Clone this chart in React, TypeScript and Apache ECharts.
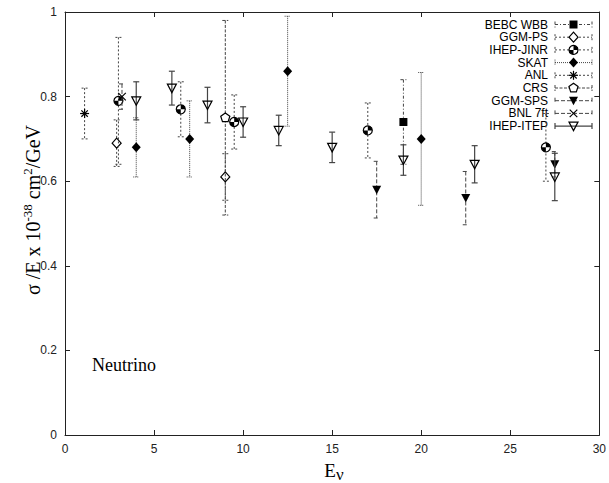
import React, { useEffect, useRef } from 'react';
import * as echarts from 'echarts';

// ---- data ----
const EXPERIMENTS = ['BEBC WBB', 'GGM-PS', 'IHEP-JINR', 'SKAT', 'ANL', 'CRS', 'GGM-SPS', 'BNL 7ft', 'IHEP-ITEP'];

const BEBC_E = [19];
const BEBC_V = [0.74];
const BEBC_ERR = [0.1];

const GGMPS_E = [2.9, 9.0];
const GGMPS_V = [0.69, 0.61];
const GGMPS_ERR = [0.055, 0.055];

const JINR_E = [3.0, 6.5, 9.5, 17.0, 27.0];
const JINR_V = [0.79, 0.77, 0.74, 0.72, 0.68];
const JINR_ERR = [0.15, 0.065, 0.064, 0.065, 0.08];

const SKAT_E = [4.0, 7.0, 12.5, 20.0];
const SKAT_V = [0.68, 0.70, 0.86, 0.70];
const SKAT_ERR = [0.07, 0.09, 0.13, 0.157];

const ANL_E = [1.1];
const ANL_V = [0.76];
const ANL_ERR = [0.06];

const CRS_E = [9.0];
const CRS_V = [0.75];
const CRS_ERR = [0.23];

const GGMSPS_E = [17.5, 22.5, 27.5];
const GGMSPS_V = [0.58, 0.56, 0.64];
const GGMSPS_ERR = [0.067, 0.063, 0.03];

const BNL_E = [3.2];
const BNL_V = [0.80];
const BNL_ERR = [0.03];

const ITEP_E = [4, 6, 8, 10, 12, 15, 19, 23, 27.5];
const ITEP_V = [0.79, 0.82, 0.78, 0.74, 0.72, 0.68, 0.65, 0.64, 0.61];
const ITEP_ERR = [0.045, 0.04, 0.042, 0.036, 0.036, 0.036, 0.036, 0.044, 0.056];

const X_MIN = 0, X_MAX = 30, X_STEP = 5;
const Y_MIN = 0, Y_MAX = 1, Y_STEP = 0.2;

const SERIES_DATA = [
  [BEBC_E, BEBC_V, BEBC_ERR],
  [GGMPS_E, GGMPS_V, GGMPS_ERR],
  [JINR_E, JINR_V, JINR_ERR],
  [SKAT_E, SKAT_V, SKAT_ERR],
  [ANL_E, ANL_V, ANL_ERR],
  [CRS_E, CRS_V, CRS_ERR],
  [GGMSPS_E, GGMSPS_V, GGMSPS_ERR],
  [BNL_E, BNL_V, BNL_ERR],
  [ITEP_E, ITEP_V, ITEP_ERR],
];

// ---- styles ----
type Kind = 'square' | 'diamondOpen' | 'halfCircle' | 'diamondFilled' | 'asterisk' | 'pentagon' | 'triDownFilled' | 'cross' | 'triDownOpen';
const STYLES: { dash: number[] | null; marker: Kind }[] = [
  { dash: [3, 2, 1, 2], marker: 'square' },
  { dash: [2, 2], marker: 'diamondOpen' },
  { dash: [2, 2], marker: 'halfCircle' },
  { dash: [1, 1], marker: 'diamondFilled' },
  { dash: [2, 2], marker: 'asterisk' },
  { dash: [3, 1.5], marker: 'pentagon' },
  { dash: [4, 2], marker: 'triDownFilled' },
  { dash: [4, 2], marker: 'cross' },
  { dash: null, marker: 'triDownOpen' },
];

const BAR_COLOR = '#444';
const SANS = '"Liberation Sans", Arial, sans-serif';
const SERIF = '"Liberation Serif", "Times New Roman", serif';

function markerEls(cx: number, cy: number, kind: Kind): any[] {
  const k = '#000';
  const lw = 1.2;
  switch (kind) {
    case 'square':
      return [{ type: 'rect', shape: { x: cx - 4, y: cy - 4, width: 8, height: 8 }, style: { fill: k } }];
    case 'diamondOpen':
      return [{ type: 'polygon', shape: { points: [[cx, cy - 5], [cx + 4.5, cy], [cx, cy + 5], [cx - 4.5, cy]] }, style: { fill: '#fff', stroke: k, lineWidth: lw } }];
    case 'diamondFilled':
      return [{ type: 'polygon', shape: { points: [[cx, cy - 5], [cx + 4.5, cy], [cx, cy + 5], [cx - 4.5, cy]] }, style: { fill: k } }];
    case 'halfCircle':
      return [
        { type: 'circle', shape: { cx, cy, r: 4.5 }, style: { fill: '#fff', stroke: k, lineWidth: lw } },
        { type: 'sector', shape: { cx, cy, r0: 0, r: 4.5, startAngle: -Math.PI / 2, endAngle: 0, clockwise: true }, style: { fill: k } },
        { type: 'sector', shape: { cx, cy, r0: 0, r: 4.5, startAngle: Math.PI / 2, endAngle: Math.PI, clockwise: true }, style: { fill: k } },
      ];
    case 'asterisk': {
      const r = 4.5, d = 3.2;
      return [
        { type: 'line', shape: { x1: cx - r, y1: cy, x2: cx + r, y2: cy }, style: { stroke: k, lineWidth: lw } },
        { type: 'line', shape: { x1: cx, y1: cy - r, x2: cx, y2: cy + r }, style: { stroke: k, lineWidth: lw } },
        { type: 'line', shape: { x1: cx - d, y1: cy - d, x2: cx + d, y2: cy + d }, style: { stroke: k, lineWidth: lw } },
        { type: 'line', shape: { x1: cx - d, y1: cy + d, x2: cx + d, y2: cy - d }, style: { stroke: k, lineWidth: lw } },
      ];
    }
    case 'pentagon': {
      const pts: number[][] = [];
      for (let i = 0; i < 5; i++) {
        const a = -Math.PI / 2 + (i * 2 * Math.PI) / 5;
        pts.push([cx + 4.8 * Math.cos(a), cy + 4.8 * Math.sin(a)]);
      }
      return [{ type: 'polygon', shape: { points: pts }, style: { fill: '#fff', stroke: k, lineWidth: lw } }];
    }
    case 'triDownFilled':
      return [{ type: 'polygon', shape: { points: [[cx - 4.5, cy - 4], [cx + 4.5, cy - 4], [cx, cy + 4.5]] }, style: { fill: k } }];
    case 'triDownOpen':
      return [{ type: 'polygon', shape: { points: [[cx - 4.5, cy - 4], [cx + 4.5, cy - 4], [cx, cy + 4.5]] }, style: { fill: 'none', stroke: k, lineWidth: lw } }];
    case 'cross': {
      const d = 3.8;
      return [
        { type: 'line', shape: { x1: cx - d, y1: cy - d, x2: cx + d, y2: cy + d }, style: { stroke: k, lineWidth: lw } },
        { type: 'line', shape: { x1: cx - d, y1: cy + d, x2: cx + d, y2: cy - d }, style: { stroke: k, lineWidth: lw } },
      ];
    }
  }
  return [];
}

function lineStyle(dash: number[] | null) {
  return dash ? { stroke: BAR_COLOR, lineWidth: 1, lineDash: dash } : { stroke: BAR_COLOR, lineWidth: 1.2 };
}

function buildOption() {
  const series = EXPERIMENTS.map((name, si) => {
    const [E, V, ERR] = SERIES_DATA[si];
    const st = STYLES[si];
    return {
      type: 'custom',
      name,
      xAxisIndex: 0,
      yAxisIndex: 0,
      clip: false,
      encode: { x: 0, y: 1 },
      data: E.map((e, i) => [e, V[i], ERR[i]]),
      renderItem: (params: any, api: any) => {
        const x = api.value(0), y = api.value(1), err = api.value(2);
        const p = api.coord([x, y]);
        const t = api.coord([x, y + err]);
        const b = api.coord([x, y - err]);
        const ls = lineStyle(st.dash);
        const cap = 3;
        return {
          type: 'group',
          children: [
            { type: 'line', shape: { x1: p[0], y1: t[1], x2: p[0], y2: b[1] }, style: ls },
            { type: 'line', shape: { x1: p[0] - cap, y1: t[1], x2: p[0] + cap, y2: t[1] }, style: ls },
            { type: 'line', shape: { x1: p[0] - cap, y1: b[1], x2: p[0] + cap, y2: b[1] }, style: ls },
            ...markerEls(p[0], p[1], st.marker),
          ],
        };
      },
    };
  });

  const legend: any[] = [];
  EXPERIMENTS.forEach((name, i) => {
    const y = 24.5 + 12.7 * i;
    const st = STYLES[i];
    const ls = lineStyle(st.dash);
    const x1 = 555, x2 = 592, xm = (x1 + x2) / 2;
    legend.push({ type: 'text', x: 548, y, style: { text: name, fill: '#000', fontSize: 12, fontFamily: SANS, align: 'right', verticalAlign: 'middle' } });
    legend.push({ type: 'line', shape: { x1, y1: y, x2, y2: y }, style: ls });
    legend.push({ type: 'line', shape: { x1, y1: y - 3, x2: x1, y2: y + 3 }, style: ls });
    legend.push({ type: 'line', shape: { x1: x2, y1: y - 3, x2, y2: y + 3 }, style: ls });
    markerEls(xm, y, st.marker).forEach((m) => legend.push(m));
  });

  const axisColor = '#222';
  const baseX = {
    type: 'value', min: X_MIN, max: X_MAX, interval: X_STEP,
    axisLine: { show: true, onZero: false, lineStyle: { color: axisColor, width: 1 } },
    axisTick: { show: true, inside: true, length: 5, lineStyle: { color: axisColor } },
    splitLine: { show: false },
  };
  const baseY = {
    type: 'value', min: Y_MIN, max: Y_MAX, interval: Y_STEP,
    axisLine: { show: true, onZero: false, lineStyle: { color: axisColor, width: 1 } },
    axisTick: { show: true, inside: true, length: 5, lineStyle: { color: axisColor } },
    splitLine: { show: false },
  };

  return {
    animation: false,
    backgroundColor: '#fff',
    grid: { left: 65, right: 5, top: 12, bottom: 48, containLabel: false },
    xAxis: [
      { ...baseX, position: 'bottom', axisLabel: { show: true, color: axisColor, fontSize: 12, fontFamily: SANS, margin: 8, showMinLabel: true, showMaxLabel: true } },
      { ...baseX, position: 'top', axisLabel: { show: false } },
    ],
    yAxis: [
      { ...baseY, position: 'left', axisLabel: { show: true, color: axisColor, fontSize: 12, fontFamily: SANS, margin: 8, showMinLabel: true, showMaxLabel: true } },
      { ...baseY, position: 'right', axisLabel: { show: false } },
    ],
    series,
    graphic: [
      ...legend,
      {
        type: 'text', x: 92, y: 365,
        style: { text: 'Neutrino', fill: '#000', fontSize: 18, fontFamily: SERIF, align: 'left', verticalAlign: 'middle' },
      },
      {
        type: 'text', x: 334, y: 470,
        style: {
          text: '{a|E}{s|ν}',
          align: 'center', verticalAlign: 'middle',
          rich: {
            a: { fontSize: 19, fontFamily: SERIF, fill: '#000', lineHeight: 22 },
            s: { fontSize: 17, fontFamily: SERIF, fill: '#000', lineHeight: 22, padding: [9, 0, 0, 0] },
          },
        },
      },
      {
        type: 'text', x: 33, y: 210, rotation: Math.PI / 2,
        style: {
          text: '{a|σ /E x 10}{s|-38}{a| cm}{s|2}{a|/GeV}',
          align: 'center', verticalAlign: 'middle',
          rich: {
            a: { fontSize: 20, fontFamily: SERIF, fill: '#000', lineHeight: 24 },
            s: { fontSize: 13, fontFamily: SERIF, fill: '#000', lineHeight: 13, verticalAlign: 'top' },
          },
        },
      },
    ],
  };
}

export default function App() {
  const ref = useRef<HTMLDivElement>(null);
  useEffect(() => {
    if (!ref.current) return;
    const chart = echarts.init(ref.current, null, { renderer: 'svg' });
    chart.setOption(buildOption() as any);
    return () => chart.dispose();
  }, []);
  return <div ref={ref} style={{ position: 'fixed', left: 0, top: 0, width: 609, height: 483, background: '#fff' }} />;
}
